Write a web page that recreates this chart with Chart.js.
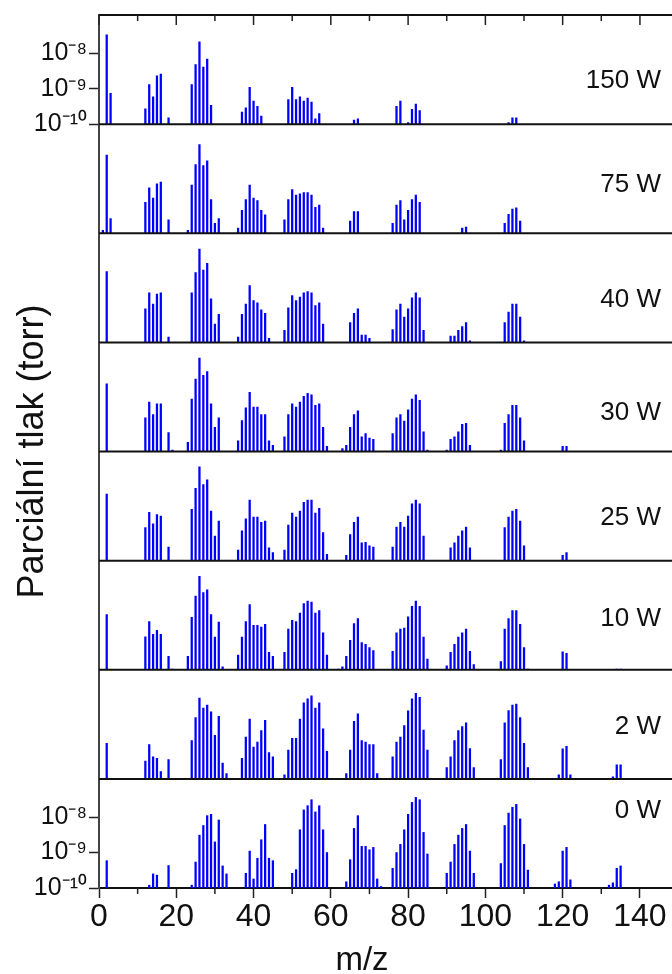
<!DOCTYPE html>
<html>
<head>
<meta charset="utf-8">
<script src="https://cdn.jsdelivr.net/npm/chart.js@4.4.1/dist/chart.umd.min.js"></script>
<style>
  html, body { margin: 0; padding: 0; background: #fff; }
  #wrap { width: 672px; height: 974px; }
</style>
</head>
<body>
<div id="wrap"><canvas id="spectra" width="672" height="974"></canvas></div>
<script>
// --- DATA (partial pressure in torr vs m/z), top panel first ---
const panelLabels = ['150 W', '75 W', '40 W', '30 W', '25 W', '10 W', '2 W', '0 W'];
const yTickValues = [1e-10, 1e-9, 1e-8];
const xTickValues = [0, 20, 40, 60, 80, 100, 120, 140];

const mz150 = [2,3,12,13,14,15,16,18,24,25,26,27,28,29,37,38,39,40,41,42,49,50,51,52,53,54,55,56,57,66,67,77,78,80,81,82,83,106,107,108];
const p150 = [3.3e-8,7.4e-10, 2.7e-10,1.3e-9,5.9e-10,2.3e-9,2.6e-9,1.5e-10, 1.3e-9,4.8e-9,2.1e-8,4.1e-9,6.8e-9,3.4e-10,
  2.2e-10,2.9e-10,1.1e-9,4.5e-10,3.2e-10,1.7e-10, 4.9e-10,1.1e-9,4.9e-10,5.9e-10,4.5e-10,5.4e-10,4.2e-10,1.4e-10,2.0e-10,
  1.3e-10,1.4e-10, 3.2e-10,4.5e-10,1.1e-10,2.6e-10,3.7e-10,2.4e-10, 1.1e-10,1.5e-10,1.5e-10];

const mz75 = [1,2,3,12,13,14,15,16,18,23,24,25,26,27,28,29,30,31,36,37,38,39,40,41,42,43,48,49,50,51,52,53,54,55,56,57,58,65,66,67,76,77,78,79,80,81,82,83,94,95,105,106,107,108,109];
const p75 = [1.2e-10,1.6e-8,2.6e-10, 7.4e-10,1.9e-9,9.8e-10,2.5e-9,2.8e-9,2.4e-10, 1.2e-10,2.3e-9,8.7e-9,3.2e-8,8.1e-9,1.1e-8,8.9e-10,1.9e-10,2.6e-10,
  1.4e-10,4.4e-10,8.9e-10,2.3e-9,9.8e-10,8.3e-10,4.4e-10,3.3e-10, 2.4e-10,8.9e-10,1.7e-9,1.2e-9,1.3e-9,1.4e-9,1.4e-9,1.2e-9,5.4e-10,6.2e-10,1.4e-10,
  2.2e-10,4.1e-10,4.1e-10, 1.9e-10,6.2e-10,8.3e-10,2.4e-10,4.4e-10,8.9e-10,1.2e-9,7.4e-10, 1.4e-10,1.5e-10, 1.9e-10,3.4e-10,4.8e-10,5.2e-10,2.2e-10];

const mz40 = [2,12,13,14,15,16,18,24,25,26,27,28,29,30,31,36,37,38,39,40,41,42,43,44,48,49,50,51,52,53,54,55,56,57,58,65,66,67,68,69,70,76,77,78,79,80,81,82,83,84,91,92,93,94,95,96,105,106,107,108,109,110];
const p40 = [1.0e-8, 8.9e-10,2.5e-9,1.2e-9,2.3e-9,2.5e-9,1.4e-10, 2.5e-9,9.3e-9,4.3e-8,1.1e-8,1.7e-8,1.7e-9,3.3e-10,6.2e-10,
  1.4e-10,6.2e-10,1.2e-9,4.0e-9,1.5e-9,1.3e-9,8.3e-10,6.6e-10,1.3e-10, 2.2e-10,9.5e-10,2.1e-9,1.5e-9,1.9e-9,2.5e-9,2.7e-9,2.5e-9,1.1e-9,1.3e-9,3.3e-10,
  3.6e-10,6.6e-10,8.9e-10,1.6e-10,1.6e-10,1.3e-10, 2.3e-10,8.3e-10,1.2e-9,5.2e-10,8.9e-10,1.8e-9,2.5e-9,1.8e-9,2.2e-10,
  1.5e-10,1.5e-10,2.2e-10,2.8e-10,3.6e-10,1.1e-10, 3.6e-10,7.2e-10,1.2e-9,1.2e-9,5.2e-10,1.1e-10];

const mz30 = [2,12,13,14,15,16,18,19,23,24,25,26,27,28,29,30,31,36,37,38,39,40,41,42,43,44,45,48,49,50,51,52,53,54,55,56,57,58,59,63,64,65,66,67,68,69,70,71,76,77,78,79,80,81,82,83,84,85,90,91,92,93,94,95,96,104,105,106,107,108,109,110,120,121];
const p30 = [8.1e-9, 8.9e-10,2.5e-9,1.1e-9,2.2e-9,2.2e-9,3.4e-10,1.1e-10, 1.8e-10,3.0e-9,1.1e-8,4.3e-8,1.4e-8,1.8e-8,2.2e-9,4.8e-10,8.9e-10,
  2.0e-10,7.4e-10,1.7e-9,4.7e-9,1.8e-9,1.8e-9,1.1e-9,1.1e-9,2.0e-10,1.5e-10, 2.6e-10,1.1e-9,2.2e-9,1.8e-9,2.5e-9,3.6e-9,4.4e-9,4.0e-9,2.0e-9,2.2e-9,4.8e-10,1.4e-10,
  1.2e-10,1.5e-10,4.8e-10,1.1e-9,1.4e-9,2.6e-10,3.2e-10,2.4e-10,2.2e-10, 3.2e-10,8.9e-10,1.1e-9,7.2e-10,1.5e-9,3.0e-9,4.0e-9,2.8e-9,3.6e-10,1.1e-10,
  1.1e-10,2.2e-10,2.6e-10,3.6e-10,5.8e-10,6.2e-10,1.5e-10, 1.1e-10,6.2e-10,1.1e-9,2.0e-9,2.0e-9,8.9e-10,2.0e-10, 1.4e-10,1.4e-10];

const mz25 = [2,12,13,14,15,16,18,24,25,26,27,28,29,30,31,36,37,38,39,40,41,42,43,44,45,48,49,50,51,52,53,54,55,56,57,58,59,64,65,66,67,68,69,70,71,76,77,78,79,80,81,82,83,84,91,92,93,94,95,96,105,106,107,108,109,110,120,121];
const p25 = [7.6e-9, 8.5e-10,2.3e-9,1.1e-9,2.0e-9,1.8e-9,2.4e-10, 2.8e-9,1.1e-8,4.4e-8,1.4e-8,1.9e-8,2.5e-9,4.9e-10,1.3e-9,
  2.0e-10,6.9e-10,1.5e-9,5.1e-9,1.7e-9,1.7e-9,1.2e-9,1.3e-9,2.3e-10,1.7e-10, 2.0e-10,1.0e-9,2.2e-9,1.7e-9,2.5e-9,4.4e-9,5.1e-9,5.1e-9,2.2e-9,3.0e-9,6.2e-10,1.5e-10,
  1.4e-10,5.4e-10,1.2e-9,1.7e-9,3.2e-10,3.3e-10,2.6e-10,2.4e-10, 2.4e-10,8.9e-10,1.2e-9,8.9e-10,1.8e-9,4.0e-9,5.1e-9,4.0e-9,4.9e-10,
  2.3e-10,3.2e-10,4.9e-10,6.9e-10,8.9e-10,2.3e-10, 8.5e-10,1.7e-9,2.5e-9,2.8e-9,1.3e-9,2.6e-10, 1.4e-10,1.7e-10];

const mz10 = [2,12,13,14,15,16,18,19,23,24,25,26,27,28,29,30,31,32,36,37,38,39,40,41,42,43,44,45,48,49,50,51,52,53,54,55,56,57,58,59,62,63,64,65,66,67,68,69,70,71,76,77,78,79,80,81,82,83,84,85,90,91,92,93,94,95,96,97,104,105,106,107,108,109,110,111,120,121,134,135];
const p10 = [3.6e-9, 8.5e-10,2.3e-9,1.0e-9,1.3e-9,1.0e-9,2.4e-10,1.05e-10, 2.4e-10,3.0e-9,1.2e-8,4.3e-8,1.5e-8,1.8e-8,3.6e-9,8.3e-10,2.2e-9,1.2e-10,
  2.6e-10,8.3e-10,2.3e-9,6.9e-9,1.8e-9,1.8e-9,1.6e-9,1.9e-9,3.1e-10,2.4e-10, 3.1e-10,1.4e-9,2.5e-9,2.3e-9,4.0e-9,7.4e-9,8.7e-9,8.1e-9,4.0e-9,4.7e-9,1.1e-9,2.6e-10,
  1.05e-10,1.2e-10,2.4e-10,6.8e-10,2.0e-9,2.8e-9,5.8e-10,5.2e-10,4.2e-10,3.5e-10, 3.3e-10,1.1e-9,1.4e-9,1.5e-9,3.1e-9,6.2e-9,8.7e-9,6.2e-9,8.3e-10,2.0e-10,
  1.3e-10,3.1e-10,5.2e-10,8.3e-10,1.1e-9,1.4e-9,3.3e-10,1.4e-10, 1.7e-10,1.4e-9,2.8e-9,4.7e-9,4.7e-9,1.9e-9,4.2e-10,1.05e-10, 3.2e-10,2.9e-10, 1.05e-10,1.05e-10];

const mz2 = [2,12,13,14,15,16,18,24,25,26,27,28,29,30,31,32,33,37,38,39,40,41,42,43,44,45,48,49,50,51,52,53,54,55,56,57,58,59,64,65,66,67,68,69,70,71,72,76,77,78,79,80,81,82,83,84,85,90,91,92,93,94,95,96,97,104,105,106,107,108,109,110,111,119,120,121,122,133,134,135];
const p2 = [1.0e-9, 3.2e-10,9.3e-10,4.2e-10,3.8e-10,1.6e-10,3.5e-10, 1.2e-9,5.4e-9,1.9e-8,1.0e-8,1.2e-8,7.8e-9,1.7e-9,5.8e-9,2.8e-10,1.4e-10,
  3.8e-10,1.5e-9,4.9e-9,7.9e-10,1.1e-9,2.3e-9,4.5e-9,5.5e-10,4.2e-10, 1.3e-10,6.5e-10,1.4e-9,1.4e-9,4.9e-9,1.4e-8,1.8e-8,2.2e-8,1.0e-8,1.4e-8,2.6e-9,6.0e-10,
  1.4e-10,6.5e-10,4.2e-9,6.8e-9,1.2e-9,1.1e-9,9.3e-10,9.3e-10,1.4e-10, 4.2e-10,1.1e-9,1.5e-9,3.2e-9,8.3e-9,1.8e-8,2.6e-8,2.0e-8,2.4e-9,6.5e-10,
  2.1e-10,4.2e-10,1.2e-9,2.3e-9,3.0e-9,3.8e-9,7.2e-10,2.1e-10, 3.5e-10,3.8e-9,8.5e-9,1.2e-8,1.3e-8,5.4e-9,1.0e-9,2.1e-10,
  1.3e-10,7.1e-10,8.3e-10,1.3e-10, 1.15e-10,2.5e-10,2.5e-10];

const mz0 = [2,13,14,15,18,24,25,26,27,28,29,30,31,32,33,38,39,40,41,42,43,44,45,50,51,52,53,54,55,56,57,58,59,64,65,66,67,68,69,70,71,72,73,76,77,78,79,80,81,82,83,84,85,90,91,92,93,94,95,96,97,104,105,106,107,108,109,110,111,118,119,120,121,122,132,133,134,135];
const p0 = [5.9e-10, 1.2e-10,2.5e-10,2.3e-10,4.3e-10, 1.2e-10,5.4e-10,3.1e-9,5.8e-9,1.1e-8,1.2e-8,2.0e-9,8.3e-9,4.2e-10,2.5e-10,
  2.6e-10,1.1e-9,1.8e-10,6.9e-10,2.3e-9,6.2e-9,6.9e-10,5.9e-10, 2.6e-10,3.3e-10,4.4e-9,1.6e-8,2.1e-8,3.1e-8,1.4e-8,2.1e-8,4.4e-9,1.0e-9,
  1.5e-10,6.3e-10,4.8e-9,1.1e-8,1.5e-9,1.5e-9,1.2e-9,1.4e-9,1.8e-10,1.1e-10, 3.6e-10,1.0e-9,1.7e-9,4.4e-9,1.2e-8,2.6e-8,3.6e-8,3.1e-8,3.7e-9,9.1e-10,
  2.6e-10,5.4e-10,1.7e-9,3.1e-9,4.8e-9,6.2e-9,1.1e-9,2.6e-10, 4.9e-10,5.8e-9,1.3e-8,1.9e-8,2.3e-8,8.9e-9,1.7e-9,3.2e-10,
  1.3e-10,1.5e-10,1.1e-9,1.4e-9,1.7e-10, 1.2e-10,1.4e-10,3.6e-10,4.2e-10];

const mzSets = [mz150, mz75, mz40, mz30, mz25, mz10, mz2, mz0];
const pSets = [p150, p75, p40, p30, p25, p10, p2, p0];

// --- STYLE ---
const FONT = "'Liberation Sans', Arial, sans-serif";
const TEXT = '#111';
const BAR = '#0000ff';
const labelFrac = [0.60, 0.56, 0.61, 0.65, 0.61, 0.53, 0.52, 0.29]; // vertical spot of the power label inside each panel

const SUP = { '-': '⁻', '0': '⁰', '1': '¹', '8': '⁸', '9': '⁹' };
const powLabel = v => '10' + String(Math.round(Math.log10(v))).split('').map(c => SUP[c]).join('');

// --- DATASETS & SCALES ---
const datasets = pSets.map((vals, i) => ({
    label: panelLabels[i],
    yAxisID: 'y' + i,
    data: vals.map((v, k) => ({ x: mzSets[i][k], y: v })),
    backgroundColor: BAR,
    borderWidth: 0,
    barThickness: 1.6,
    grouped: false
}));

const scales = {
    x: {
        type: 'linear', position: 'bottom', min: 0, max: 148.3, offset: false,
        ticks: {
            stepSize: 10, includeBounds: false, autoSkip: false, maxRotation: 0,
            callback: v => (xTickValues.includes(v) ? String(v) : ''),
            font: { family: FONT, size: 32 }, color: TEXT, padding: 0
        },
        grid: {
            offset: false, drawOnChartArea: false, tickLength: 10, tickWidth: 1.5,
            tickColor: c => (c.tick && xTickValues.includes(c.tick.value) ? '#222' : 'rgba(0,0,0,0)')
        },
        border: { color: '#111', width: 2 },
        afterFit: s => { s.height = 86; s.paddingLeft = 0; s.paddingRight = 0; }
    }
};

panelLabels.forEach((lab, i) => {
    const edge = i === 0 || i === panelLabels.length - 1;
    scales['y' + i] = {
        type: 'logarithmic', position: 'left', stack: 'panels', stackWeight: 1,
        weight: panelLabels.length - i,
        min: 1e-10, max: 1.2e-7,
        afterBuildTicks: s => { s.ticks = yTickValues.map(v => ({ value: v })); },
        ticks: { display: edge, autoSkip: false, callback: v => powLabel(v), font: { family: FONT, size: 25 }, color: TEXT, padding: 2 },
        grid: { display: edge, drawOnChartArea: false, tickLength: 10, tickWidth: 1.5, tickColor: '#222' },
        border: { display: true, color: '#444', width: 2 },
        afterFit: s => { s.width = 70; s.paddingTop = 0; s.paddingBottom = 0; }
    };
});

// frame lines, top ticks, minor ticks and all free text
const decorations = {
    id: 'decorations',
    afterDraw(chart) {
        const { ctx, chartArea: a } = chart;
        const xs = chart.scales.x;
        ctx.save();

        // panel separators + top frame
        ctx.strokeStyle = '#111';
        ctx.lineWidth = 2;
        ctx.beginPath();
        ctx.moveTo(a.left, a.top); ctx.lineTo(a.right, a.top);
        for (let i = 0; i < panelLabels.length - 1; i++) {
            const y = chart.scales['y' + i].bottom;
            ctx.moveTo(a.left, y); ctx.lineTo(a.right, y);
        }
        ctx.stroke();

        // top axis ticks (inward) and bottom minor ticks
        ctx.lineWidth = 1.5;
        ctx.strokeStyle = '#222';
        ctx.beginPath();
        for (let v = 0; v <= 140; v += 10) {
            const x = xs.getPixelForValue(v);
            const major = v % 20 === 0;
            ctx.moveTo(x, a.top); ctx.lineTo(x, a.top + (major ? 10 : 6));
            if (!major) { ctx.moveTo(x, a.bottom); ctx.lineTo(x, a.bottom + 6); }
        }
        ctx.stroke();

        // power labels
        ctx.fillStyle = TEXT;
        ctx.font = '26px ' + FONT;
        ctx.textAlign = 'right';
        ctx.textBaseline = 'middle';
        panelLabels.forEach((lab, i) => {
            const s = chart.scales['y' + i];
            ctx.fillText(lab, 661, s.top + labelFrac[i] * (s.bottom - s.top));
        });

        // axis titles
        ctx.font = '33px ' + FONT;
        ctx.textAlign = 'center';
        ctx.textBaseline = 'alphabetic';
        ctx.fillText('m/z', 362, 970);

        ctx.translate(33, (a.top + a.bottom) / 2);
        ctx.rotate(-Math.PI / 2);
        ctx.font = '36px ' + FONT;
        ctx.textBaseline = 'middle';
        ctx.fillText('Parciální tlak (torr)', 0, 0);
        ctx.restore();
    }
};

new Chart(document.getElementById('spectra'), {
    type: 'bar',
    data: { datasets },
    options: {
        responsive: false,
        animation: false,
        devicePixelRatio: 1,
        layout: { padding: { left: 29, top: 15, right: 0, bottom: 0 } },
        scales,
        plugins: { legend: { display: false }, tooltip: { enabled: false } }
    },
    plugins: [decorations]
});
</script>
</body>
</html>
